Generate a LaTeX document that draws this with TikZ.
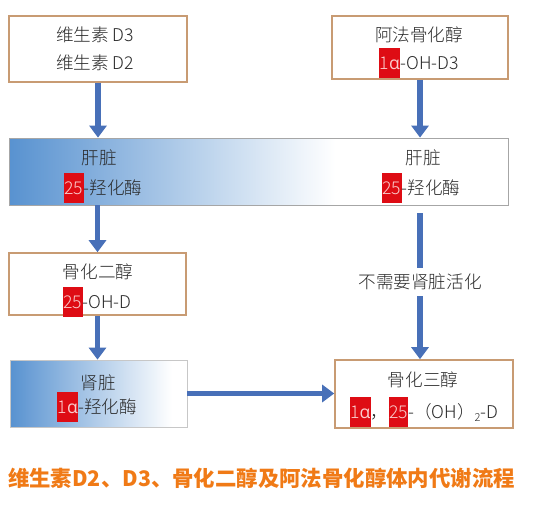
\documentclass[tikz,border=0pt]{standalone}
\usepackage{fontspec}
\setmainfont{Noto Sans CJK SC}
\newfontfamily\lightf{Noto Sans CJK SC}[UprightFont=* Light]
\newfontfamily\gk{Open Sans}
\usetikzlibrary{arrows.meta}
\definecolor{tanb}{RGB}{200,155,115}
\definecolor{ablue}{RGB}{72,112,184}
\definecolor{lblue}{RGB}{88,146,208}
\definecolor{hlred}{RGB}{222,12,20}
\definecolor{hltxt}{RGB}{250,205,205}
\definecolor{ttl}{RGB}{240,122,22}
\definecolor{txtc}{RGB}{40,40,40}
\newcommand{\hlb}[1]{{\setlength\fboxsep{0pt}\colorbox{hlred}{\rule[-8.5pt]{0pt}{30pt}\hspace{0.5pt}\textcolor{hltxt}{#1}\hspace{0.5pt}}}}
\newcommand{\alp}{{\gk α}}
\begin{document}
\begin{tikzpicture}[x=1pt,y=-1pt,
  box/.style={draw=tanb, line width=1.6pt, fill=white, inner sep=0pt},
  gbox/.style={draw=black!35, line width=0.8pt, inner sep=0pt},
  txt/.style={font=\lightf\fontsize{17.6}{20}\selectfont, text=txtc, inner sep=0pt},
  arr/.style={draw=ablue, line width=5.5pt, -{Triangle[width=17pt,length=12pt]}}]
\useasboundingbox (0,0) rectangle (534,514);
\fill[white] (0,0) rectangle (534,514);
% shaded backgrounds
\shade[left color=lblue, right color=white] (9,138) rectangle (335,205);
\shade[left color=lblue, right color=white] (10,360) rectangle (172,427);
% boxes
\node[box, minimum width=178pt, minimum height=66pt] (vd) at (98,49) {};
\node[box, minimum width=176pt, minimum height=63pt] (alfa) at (420,47.5) {};
\node[gbox, minimum width=499pt, minimum height=67pt] (liver) at (258.5,171.5) {};
\node[box, minimum width=177pt, minimum height=62pt] (diol) at (97.5,284) {};
\node[gbox, draw=black!22, minimum width=177pt, minimum height=67pt] (kid) at (98.5,393.5) {};
\node[box, minimum width=178pt, minimum height=68pt] (triol) at (424,394) {};
% texts
\node[txt] (t1) at (95,35) {维生素 D3};
\node[txt] (t2) at (95,63) {维生素 D2};
\node[txt] (t3) at (419,35) {阿法骨化醇};
\node[txt] (t4) at (419,63) {\hlb{1\alp}-OH-D3};
\node[txt] (t5) at (99,158) {肝脏};
\node[txt] (t6) at (103,188) {\hlb{25}-羟化酶};
\node[txt] (t7) at (423,158) {肝脏};
\node[txt] (t8) at (421,188) {\hlb{25}-羟化酶};
\node[txt] (t9) at (98,272) {骨化二醇};
\node[txt] (t10) at (97,302) {\hlb{25}-OH-D};
\node[txt] (t11) at (98,383) {肾脏};
\node[txt] (t12) at (97,407) {\hlb{1\alp}-羟化酶};
\node[txt] (t13) at (423,380) {骨化三醇};
\node[txt] (t14) at (424,412) {\hlb{1\alp}，\hlb{25}-（OH）\raisebox{-3pt}{\fontsize{11}{11}\selectfont 2}-D};
% arrows
\draw[arr] (vd.south) -- (vd.south |- liver.north);
\draw[arr] (alfa.south) -- (alfa.south |- liver.north);
\draw[arr] (liver.south -| diol.north) -- (diol.north);
\draw[arr] (diol.south) -- (diol.south |- kid.north);
\draw[arr, shorten <=8pt] (alfa.south |- liver.south) -- (alfa.south |- triol.north);
\node[txt, fill=white, inner ysep=6pt, inner xsep=2pt] (lab) at (420,282) {不需要肾脏活化};
\draw[arr] (kid.east) -- (kid.east -| triol.west);
% title
\node[font=\fontsize{21.4}{24}\selectfont\bfseries, text=ttl, inner sep=0pt] (title) at (261.5,478) {维生素D2、D3、骨化二醇及阿法骨化醇体内代谢流程};
\end{tikzpicture}
\end{document}
